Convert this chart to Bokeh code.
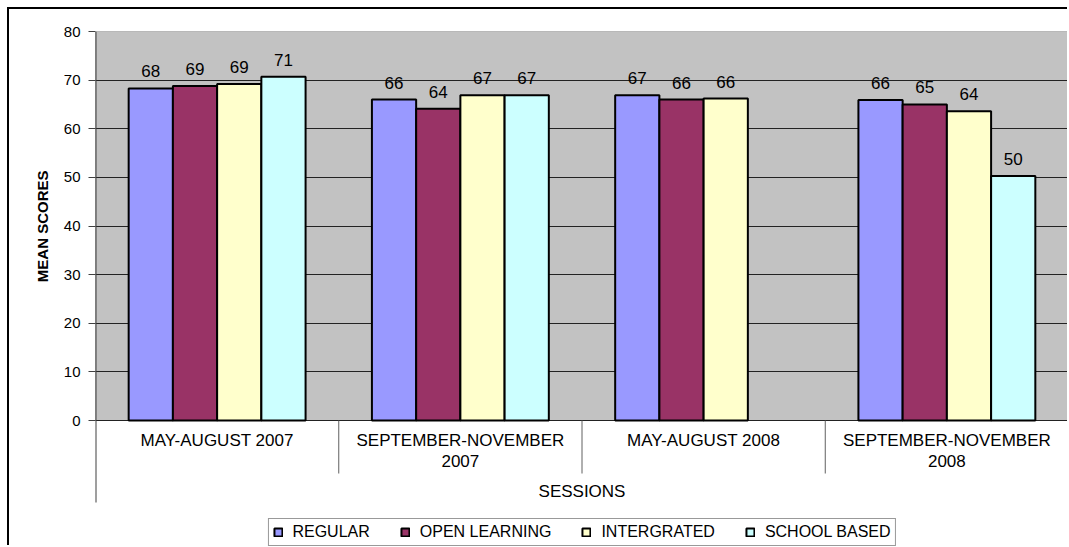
import math
from bokeh.plotting import figure
from bokeh.models import Range1d, FixedTicker, Title, Legend, LegendItem, ColumnDataSource
from bokeh.core.properties import value
from bokeh.embed import file_html
from bokeh.resources import INLINE

# ---------------- data ----------------
sessions = ["MAY-AUGUST 2007", "SEPTEMBER-NOVEMBER\n2007", "MAY-AUGUST 2008", "SEPTEMBER-NOVEMBER\n2008"]
series_names = ["REGULAR", "OPEN LEARNING", "INTERGRATED", "SCHOOL BASED"]
regular = [68.3, 66.0, 66.9, 65.9]
open_learning = [68.8, 64.1, 66.0, 65.0]
intergrated = [69.2, 66.9, 66.2, 63.6]
school_based = [70.7, 66.9, None, 50.3]
y_ticks = [0, 10, 20, 30, 40, 50, 60, 70, 80]
x_title = "SESSIONS"
y_title = "MEAN SCORES"

series_values = [regular, open_learning, intergrated, school_based]
colors = ["#9999FF", "#993366", "#FFFFCC", "#CCFFFF"]

# ---------------- layout constants (pixels) ----------------
FONT = "Liberation Sans"
W, H = 1060, 538
ML, MR, MT, MB = 86, 1, 22, 0
PLOT_PX = 389            # height of the value area (0..80)
FRAME_H = H - MT - MB
Y_MAX = y_ticks[-1]
PX_UNIT = Y_MAX / PLOT_PX
Y_MIN = Y_MAX - FRAME_H * PX_UNIT
N = len(sessions)
BAR_W = 1 / 5.5          # Excel gap width 150%
SEP_PX = 53
OUTER_PX = 82

p = figure(width=W, height=H, x_range=Range1d(0, N), y_range=Range1d(Y_MIN, Y_MAX),
           output_backend="svg", toolbar_location=None, x_axis_location=None,
           min_border_left=ML, min_border_right=MR, min_border_top=MT, min_border_bottom=MB,
           outline_line_color=None, background_fill_color="white", border_fill_color="white")
p.styles = {"border-left": "2px solid black", "border-top": "2px solid black",
            "margin-left": "7px", "margin-top": "7px"}

# y axis
p.yaxis.ticker = FixedTicker(ticks=y_ticks)
p.yaxis.major_tick_out = 7
p.yaxis.major_tick_in = 0
p.yaxis.minor_tick_out = 0
p.yaxis.minor_tick_in = 0
p.yaxis.axis_line_color = None
p.yaxis.major_tick_line_color = "#404040"
p.yaxis.major_label_standoff = 8
p.yaxis.major_label_text_font = FONT
p.yaxis.major_label_text_font_size = "15px"
p.yaxis.major_label_text_color = "black"

p.ygrid.ticker = FixedTicker(ticks=y_ticks)
p.ygrid.grid_line_color = "#222222"
p.ygrid.grid_line_width = 1
p.xgrid.visible = False

# y title
yt = Title(text=y_title, align="right", offset=139, standoff=20, text_font=FONT,
           text_font_size="15px", text_font_style="bold", text_color="black")
p.add_layout(yt, "left")

# gray plot area
p.quad(left=[0], right=[N], bottom=[0], top=[Y_MAX], fill_color="#C2C2C2",
       line_color="#808080", line_width=1, level="image")

centers = [i + 0.5 for i in range(N)]
items = []
for j, (name, vals, col) in enumerate(zip(series_names, series_values, colors)):
    xs = [c + (j - 1.5) * BAR_W for c, v in zip(centers, vals) if v is not None]
    tops = [v for v in vals if v is not None]
    src = ColumnDataSource(dict(x=xs, top=tops, lab=[str(int(round(v))) for v in tops]))
    r = p.vbar(x="x", top="top", width=BAR_W, bottom=0, source=src, fill_color=col,
               line_color="black", line_width=2)
    p.text(x="x", y="top", text="lab", source=src, text_align="center",
           text_baseline="alphabetic", y_offset=-17, text_font=value(FONT),
           text_font_size="17px", text_color="black")
    items.append(LegendItem(label=name, renderers=[r]))

# category labels
p.text(x=centers, y=[0] * N, text=sessions, text_align="center", text_baseline="top",
       y_offset=10, text_font=value(FONT), text_font_size="17px", text_color="black",
       text_line_height=1.15)

# axis lines and separators
outer_y = -OUTER_PX * PX_UNIT
sep_y = -SEP_PX * PX_UNIT
p.segment(x0=[0], y0=[Y_MAX], x1=[0], y1=[outer_y], line_color="#404040", line_width=2)
p.segment(x0=list(range(1, N)), y0=[0] * (N - 1), x1=list(range(1, N)), y1=[sep_y] * (N - 1),
          line_color="#606060", line_width=1)
p.segment(x0=[N], y0=[0], x1=[N], y1=[outer_y], line_color="#606060", line_width=2)

# x title
p.text(x=[N / 2], y=[0], text=[x_title], text_align="center", text_baseline="middle",
       y_offset=71, text_font=value(FONT), text_font_size="17px", text_color="black")

legend = Legend(items=items, orientation="horizontal", location="bottom_center",
                glyph_width=10, glyph_height=10, label_standoff=10, spacing=30,
                padding=4, margin=1, label_text_font=FONT, label_text_font_size="16px",
                label_text_color="black", border_line_color="#333333", border_line_width=1,
                background_fill_color="white", background_fill_alpha=1.0, label_height=18)
p.add_layout(legend, "center")

open("out.html", "w").write(file_html(p, INLINE))
